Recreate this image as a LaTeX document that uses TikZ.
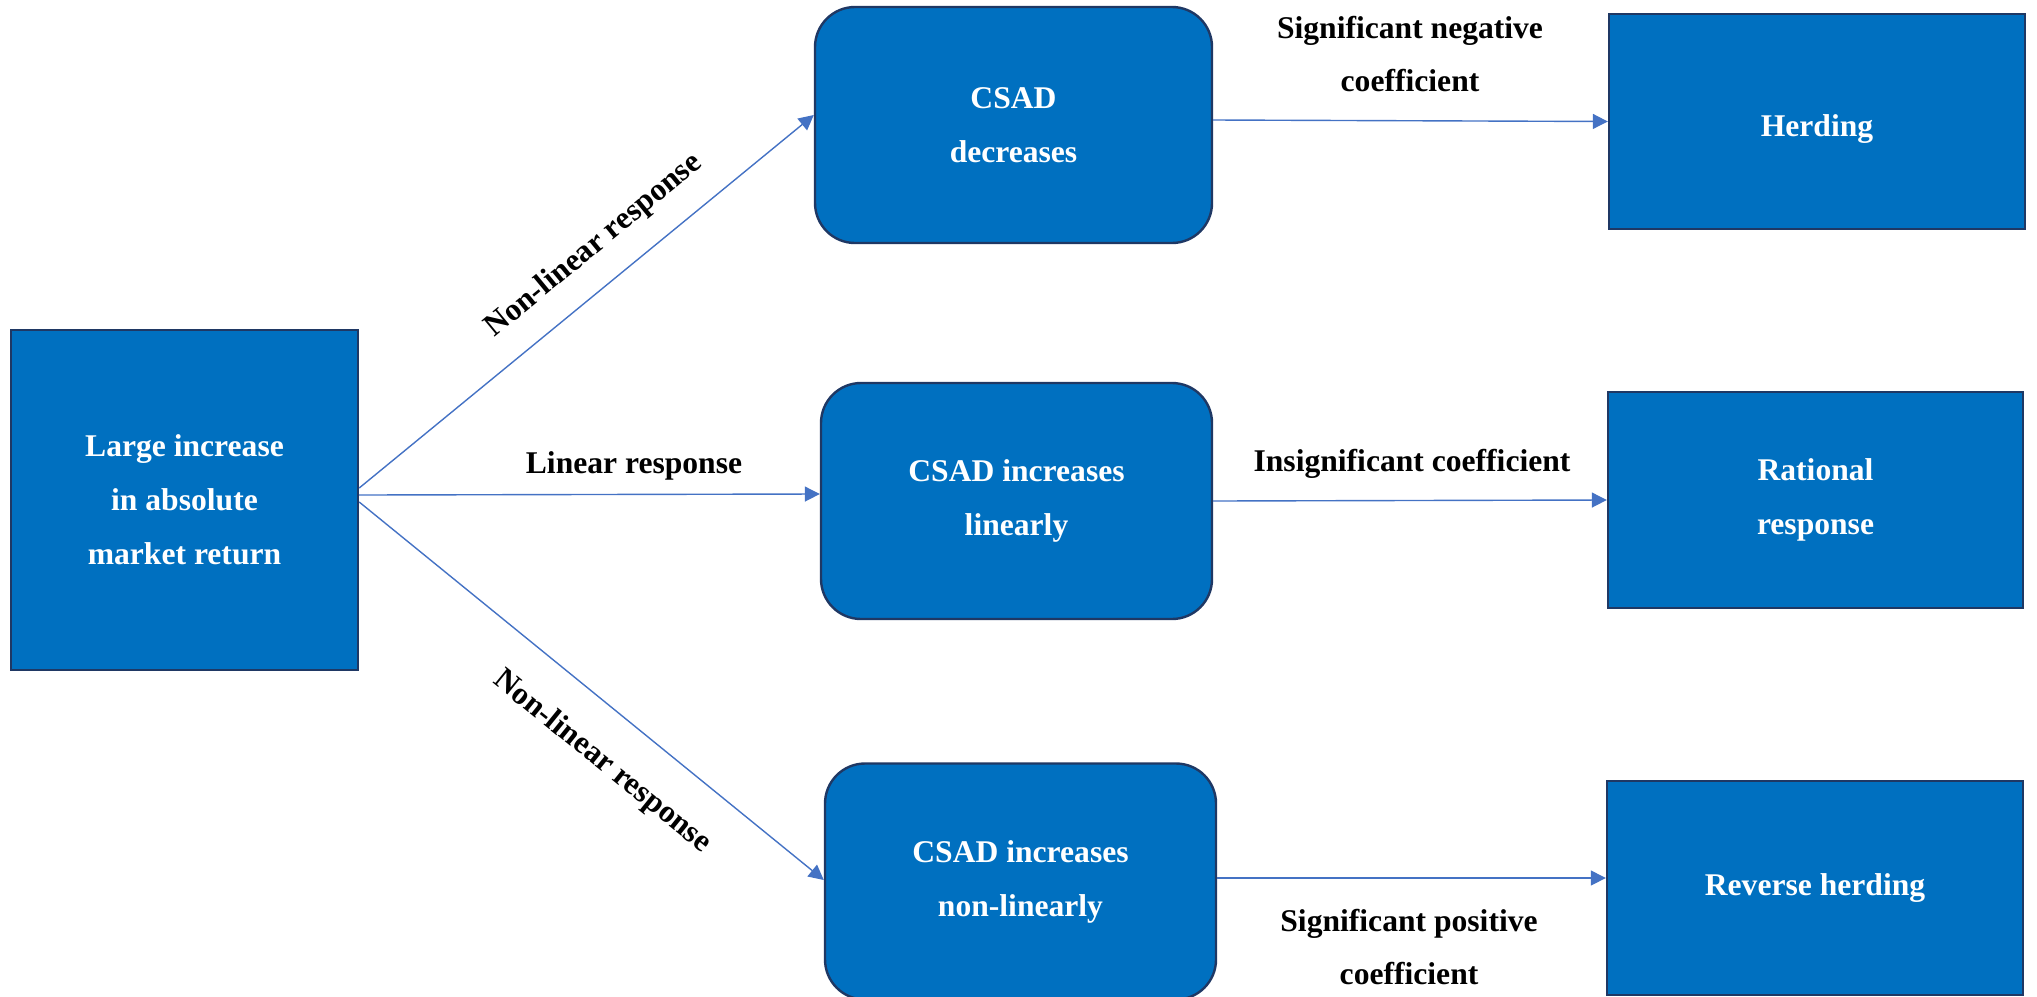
\documentclass[tikz,border=0pt]{standalone}
\usepackage{fontspec}
\setmainfont{Liberation Serif}
\usetikzlibrary{arrows.meta}
\definecolor{boxblue}{HTML}{0070C0}
\definecolor{boxedge}{HTML}{1F3864}
\definecolor{arrowblue}{HTML}{4472C4}
\begin{document}
\begin{tikzpicture}[x=0.5pt,y=-0.5pt,
  boxtext/.style={text=white, font=\bfseries\fontsize{15.8}{27}\selectfont, align=center, inner sep=0pt},
  box/.style={boxtext, draw=boxedge, line width=1.2pt, fill=boxblue},
  rbox/.style={box, rounded corners=20pt},
  lbl/.style={font=\bfseries\fontsize{15.8}{26.5}\selectfont, align=center, inner sep=0pt},
  conn/.style={draw=arrowblue, line width=0.7pt, -{Triangle[length=7.5pt,width=7.5pt]}}]
\useasboundingbox (0,0) rectangle (2037,996);
\clip (0,0) rectangle (2037,996);
% boxes
\node[box, minimum width=173.5pt, minimum height=170pt] (L) at (184.5,500)
  {Large increase\\in absolute\\market return};
\node[rbox, minimum width=198.5pt, minimum height=118pt] (T) at (1013.5,125)
  {CSAD\\decreases};
\node[rbox, minimum width=195.5pt, minimum height=118pt] (M) at (1016.5,501)
  {CSAD increases\\linearly};
\node[rbox, minimum width=195.5pt, minimum height=118pt] (B) at (1020.5,881.5)
  {CSAD increases\\non-linearly};
\node[box, minimum width=208pt, minimum height=107.5pt] (H) at (1817,121.5) {};
\node[boxtext] (Ht) at ([yshift=-4pt]H.center) {Herding};
\node[box, minimum width=207.5pt, minimum height=108pt] (R) at (1815.5,500)
  {Rational\\response};
\node[box, minimum width=208pt, minimum height=107pt] (RH) at (1815,888)
  {Reverse herding};
% connectors
\draw[conn] ([yshift=6pt]L.east) -- ([yshift=5pt]T.west);
\draw[conn] ([yshift=2.5pt]L.east) -- ([yshift=3.5pt]M.west);
\draw[conn] ([yshift=-1pt]L.east) -- ([yshift=0.75pt]B.west);
\draw[conn] ([yshift=2.5pt]T.east) -- (H.west);
\draw[conn] (M.east) -- (R.west);
\draw[conn] ([yshift=1.75pt]B.east) -- ([yshift=5pt]RH.west);
% labels
\node[lbl, rotate=39.5] (nl1) at (594,246) {Non-linear response};
\node[lbl, rotate=-39] (nl2) at (602,762) {Non-linear response};
\node[lbl] (lin) at (634,466) {Linear response};
\node[lbl] (sneg) at (1410,54) {Significant negative\\coefficient};
\node[lbl] (insig) at (1412,464) {Insignificant coefficient};
\node[lbl] (spos) at (1409,947) {Significant positive\\coefficient};
\end{tikzpicture}
\end{document}
